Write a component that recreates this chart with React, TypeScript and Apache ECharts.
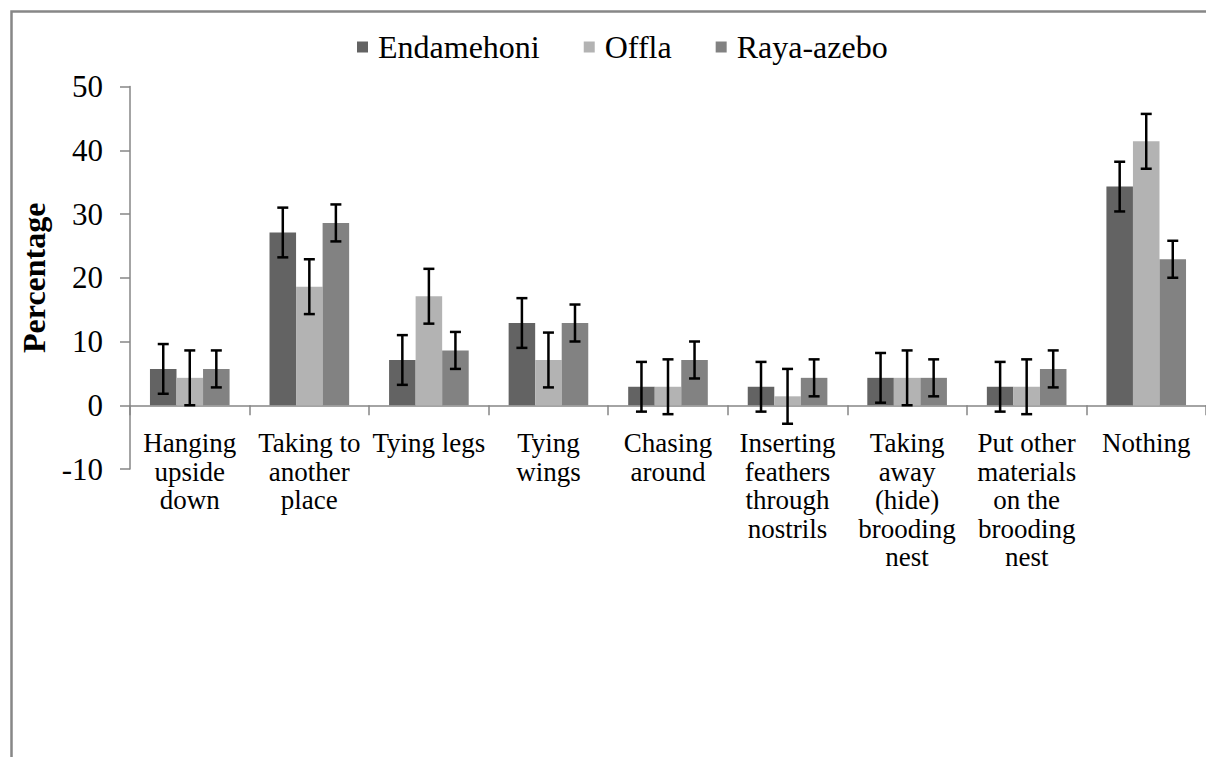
import React, { useEffect, useRef } from "react";
import * as echarts from "echarts";

const categories = [
  "Hanging\nupside\ndown",
  "Taking to\nanother\nplace",
  "Tying legs",
  "Tying\nwings",
  "Chasing\naround",
  "Inserting\nfeathers\nthrough\nnostrils",
  "Taking\naway\n(hide)\nbrooding\nnest",
  "Put other\nmaterials\non the\nbrooding\nnest",
  "Nothing",
];

const seriesNames = ["Endamehoni", "Offla", "Raya-azebo"];
const endamehoni = [5.7, 27.1, 7.1, 12.9, 2.9, 2.9, 4.3, 2.9, 34.3];
const offla = [4.3, 18.6, 17.1, 7.1, 2.9, 1.4, 4.3, 2.9, 41.4];
const rayaAzebo = [5.7, 28.6, 8.6, 12.9, 7.1, 4.3, 4.3, 5.7, 22.9];

const endamehoniErr = [3.9, 3.9, 3.9, 3.9, 3.9, 3.9, 3.9, 3.9, 3.9];
const offlaErr = [4.3, 4.3, 4.3, 4.3, 4.3, 4.3, 4.3, 4.3, 4.3];
const rayaAzeboErr = [2.9, 2.9, 2.9, 2.9, 2.9, 2.9, 2.9, 2.9, 2.9];

const yTicks = { min: -10, max: 50, interval: 10 };

const colors = ["#636363", "#b3b3b3", "#828282"];
const FONT = "Liberation Serif";
const CAT_GAP = 0.334;

export default function App() {
  const ref = useRef<HTMLDivElement>(null);

  useEffect(() => {
    if (!ref.current) return;
    const chart = echarts.init(ref.current, undefined, { renderer: "svg" });
    const values = [endamehoni, offla, rayaAzebo];
    const errs = [endamehoniErr, offlaErr, rayaAzeboErr];

    const barSeries = values.map((vals, s) => ({
      name: seriesNames[s],
      type: "bar",
      data: vals,
      barGap: "0%",
      barCategoryGap: CAT_GAP * 100 + "%",
      itemStyle: { color: colors[s] },
      z: 2,
    }));

    const errSeries = values.map((vals, s) => ({
      name: seriesNames[s] + " error",
      type: "custom",
      z: 5,
      encode: { x: 0, y: [1, 2] },
      data: vals.map((v, i) => [i, v - errs[s][i], v + errs[s][i]]),
      renderItem: (params: any, api: any) => {
        const idx = api.value(0);
        const lo = api.value(1);
        const hi = api.value(2);
        const band = api.size([1, 0])[0];
        const bw = (band * (1 - CAT_GAP)) / 3;
        const cx = api.coord([idx, 0])[0] + (s - 1) * bw;
        const yTop = api.coord([idx, hi])[1];
        const yBot = api.coord([idx, lo])[1];
        const cap = 5.5;
        const style = { stroke: "#000", lineWidth: 2.5 };
        return {
          type: "group",
          children: [
            { type: "line", shape: { x1: cx, y1: yTop, x2: cx, y2: yBot }, style },
            { type: "line", shape: { x1: cx - cap, y1: yTop, x2: cx + cap, y2: yTop }, style },
            { type: "line", shape: { x1: cx - cap, y1: yBot, x2: cx + cap, y2: yBot }, style },
          ],
        };
      },
    }));

    chart.setOption({
      animation: false,
      backgroundColor: "#ffffff",
      textStyle: { fontFamily: FONT },
      graphic: [
        {
          type: "rect",
          silent: true,
          z: -10,
          shape: { x: 11.5, y: 11.5, width: 1400, height: 1000 },
          style: { fill: "none", stroke: "#878787", lineWidth: 2.5 },
        },
      ],
      legend: {
        data: seriesNames,
        left: 352,
        top: 25,
        icon: "rect",
        itemWidth: 11,
        itemHeight: 11,
        itemGap: 44,
        textStyle: {
          fontFamily: FONT,
          fontSize: 32,
          lineHeight: 34,
          fontWeight: "normal",
          color: "#000",
          padding: [0, 0, 0, 5],
        },
      },
      grid: { left: 130, top: 86.5, width: 1077, height: 382.5, containLabel: false },
      xAxis: {
        type: "category",
        data: categories,
        axisLine: { onZero: true, lineStyle: { color: "#868686", width: 1.5 } },
        axisTick: { show: true, length: 10, lineStyle: { color: "#868686", width: 1.5 } },
        axisLabel: {
          interval: 0,
          margin: -40,
          fontFamily: FONT,
          fontSize: 27,
          lineHeight: 28.5,
          color: "#000",
        },
      },
      yAxis: {
        type: "value",
        min: yTicks.min,
        max: yTicks.max,
        interval: yTicks.interval,
        name: "Percentage",
        nameLocation: "middle",
        nameGap: 80,
        nameTextStyle: { fontFamily: FONT, fontSize: 32, fontWeight: "bold", color: "#000" },
        axisLine: { show: true, lineStyle: { color: "#868686", width: 1.5 } },
        axisTick: { show: true, length: 10, lineStyle: { color: "#868686", width: 1.5 } },
        splitLine: { show: false },
        axisLabel: {
          fontFamily: FONT,
          fontSize: 31,
          lineHeight: 32,
          fontWeight: "normal",
          color: "#000",
          margin: 27,
        },
      },
      series: [...barSeries, ...errSeries],
    });

    return () => chart.dispose();
  }, []);

  return (
    <div
      ref={ref}
      style={{ position: "absolute", left: 0, top: 0, width: 1206, height: 757 }}
    />
  );
}
